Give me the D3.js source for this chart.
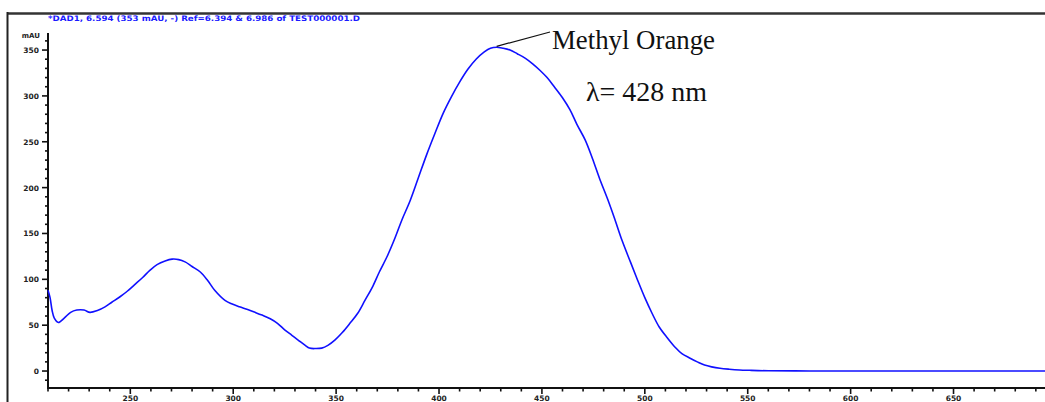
<!DOCTYPE html>
<html>
<head>
<meta charset="utf-8">
<script src="https://cdn.jsdelivr.net/npm/d3@7/dist/d3.min.js"></script>
<style>
html,body{margin:0;padding:0;background:#fff;}
svg{display:block;}
</style>
</head>
<body>
<svg id="chart" width="1045" height="402"></svg>
<script>
// Wavelength (nm) and absorbance (mAU)
const wavelength = [210, 211, 212, 213, 215, 218, 221, 224, 227.5, 230.4, 234, 237.7, 241, 245, 248.5, 252, 256, 259.6, 263, 266.9, 270.3, 273.5, 276.6, 280, 284, 287.5, 291, 296, 299.5, 303, 307, 310.6, 314, 318, 321.5, 325, 328.5, 332, 335, 337, 340, 343, 346, 349.5, 353, 356.7, 360.5, 364, 367.5, 371, 375, 378.6, 382, 386, 390, 394, 398, 402, 406, 410, 414, 418, 422, 425, 428, 431, 434.5, 438, 442, 445.5, 449, 452.5, 456, 460, 463.6, 467, 471, 474.5, 478, 482, 485.5, 489, 493, 496.5, 500, 503.5, 507, 511, 514.7, 518, 522, 525.5, 529, 532.5, 536.5, 541, 546, 551, 560, 580, 600, 620, 640, 660, 680, 700];
const absorbance = [88, 80, 66, 58, 53, 58, 64, 66.5, 66.5, 64, 66, 70, 75, 81, 87, 94, 102, 110, 116, 120, 122, 121.5, 119, 114, 108, 99, 88, 77, 73, 70, 67, 64, 61, 57, 52, 45, 39, 33, 28, 25, 24.5, 25, 28, 34, 42, 52, 63, 77, 91, 108, 126, 145, 165, 186, 211, 236, 259, 281, 299, 315, 329, 340, 348, 352, 353, 352, 350, 346, 341, 335, 328, 320, 310, 298, 285, 269, 252, 232, 210, 187, 165, 142, 119, 99, 80, 63, 48, 36, 26, 19, 14, 10, 6.5, 4.5, 3, 2, 1.2, 0.8, 0.3, 0.1, 0, 0, 0, 0, 0, 0];
const xTickValues = [250, 300, 350, 400, 450, 500, 550, 600, 650, 700];
const yTickValues = [0, 50, 100, 150, 200, 250, 300, 350];
const headerText = "*DAD1, 6.594 (353 mAU, -) Ref=6.394 & 6.986 of TEST000001.D";
const unitLabel = "mAU";
const annotationName = "Methyl Orange";
const annotationLambda = "\u03bb= 428 nm";
const peakWavelength = 428;
const peakValue = 353;

const svg = d3.select("#chart");
const x = d3.scaleLinear().domain([210, 700]).range([48, 48 + 490 * 2.058]);
const y = d3.scaleLinear().domain([-18.5, 368.6]).range([388, 33]);

// frame
svg.append("line").attr("x1", 7).attr("x2", 1045).attr("y1", 13.5).attr("y2", 13.5)
  .attr("stroke", "#333").attr("stroke-width", 2.5);
svg.append("line").attr("x1", 7.5).attr("x2", 7.5).attr("y1", 12).attr("y2", 402)
  .attr("stroke", "#222").attr("stroke-width", 2);

// header
svg.append("text").attr("x", 48).attr("y", 21).text(headerText)
  .attr("fill", "#1a1aff").attr("font-family", "DejaVu Sans").attr("font-weight", "bold")
  .attr("font-size", 7.6).attr("textLength", 312).attr("lengthAdjust", "spacingAndGlyphs");

// axes
const axisColor = "#111";
const gx = svg.append("g");
gx.append("line").attr("x1", 48).attr("x2", 1045).attr("y1", 388).attr("y2", 388)
  .attr("stroke", axisColor).attr("stroke-width", 2);
const minorX = d3.range(210, 701, 10);
gx.selectAll("line.mx").data(minorX).join("line").attr("class", "mx")
  .attr("x1", d => x(d)).attr("x2", d => x(d)).attr("y1", 388).attr("y2", d => d % 50 === 0 ? 394 : 391.5)
  .attr("stroke", axisColor).attr("stroke-width", 1.6);
gx.selectAll("text").data(xTickValues).join("text")
  .attr("x", d => x(d)).attr("y", 401).attr("text-anchor", "middle")
  .attr("font-family", "DejaVu Sans").attr("font-weight", "bold").attr("font-size", 7.5)
  .attr("fill", "#222").text(d => d);

const gy = svg.append("g");
gy.append("line").attr("x1", 48).attr("x2", 48).attr("y1", 33).attr("y2", 389)
  .attr("stroke", axisColor).attr("stroke-width", 2);
const minorY = d3.range(-10, 361, 10);
gy.selectAll("line.my").data(minorY).join("line").attr("class", "my")
  .attr("x1", d => d % 50 === 0 ? 42 : 45).attr("x2", 48).attr("y1", d => y(d)).attr("y2", d => y(d))
  .attr("stroke", axisColor).attr("stroke-width", 1.6);
gy.selectAll("text").data(yTickValues).join("text")
  .attr("x", 39).attr("y", d => y(d) + 3).attr("text-anchor", "end")
  .attr("font-family", "DejaVu Sans").attr("font-weight", "bold").attr("font-size", 7.5)
  .attr("fill", "#222").text(d => d);
svg.append("text").attr("x", 40).attr("y", 38).attr("text-anchor", "end")
  .attr("font-family", "DejaVu Sans").attr("font-weight", "bold").attr("font-size", 7)
  .attr("fill", "#222").text(unitLabel);

// curve
const pts = wavelength.map((w, i) => [w, absorbance[i]]);
const line = d3.line().x(d => x(d[0])).y(d => y(d[1])).curve(d3.curveCatmullRom.alpha(0.5));
svg.append("path").datum(pts).attr("d", line).attr("fill", "none")
  .attr("stroke", "#1010ff").attr("stroke-width", 1.6);

// annotation
svg.append("line").attr("x1", x(peakWavelength)).attr("y1", y(peakValue) - 1)
  .attr("x2", 550).attr("y2", 32).attr("stroke", "#111").attr("stroke-width", 1.2);
svg.append("text").attr("x", 552).attr("y", 49).text(annotationName)
  .attr("font-family", "Liberation Serif").attr("font-size", 28).attr("fill", "#111")
  .attr("textLength", 163).attr("lengthAdjust", "spacingAndGlyphs");
svg.append("text").attr("x", 586).attr("y", 101).text(annotationLambda)
  .attr("font-family", "Liberation Serif").attr("font-size", 28).attr("fill", "#111")
  .attr("textLength", 121).attr("lengthAdjust", "spacingAndGlyphs");
</script>
</body>
</html>
